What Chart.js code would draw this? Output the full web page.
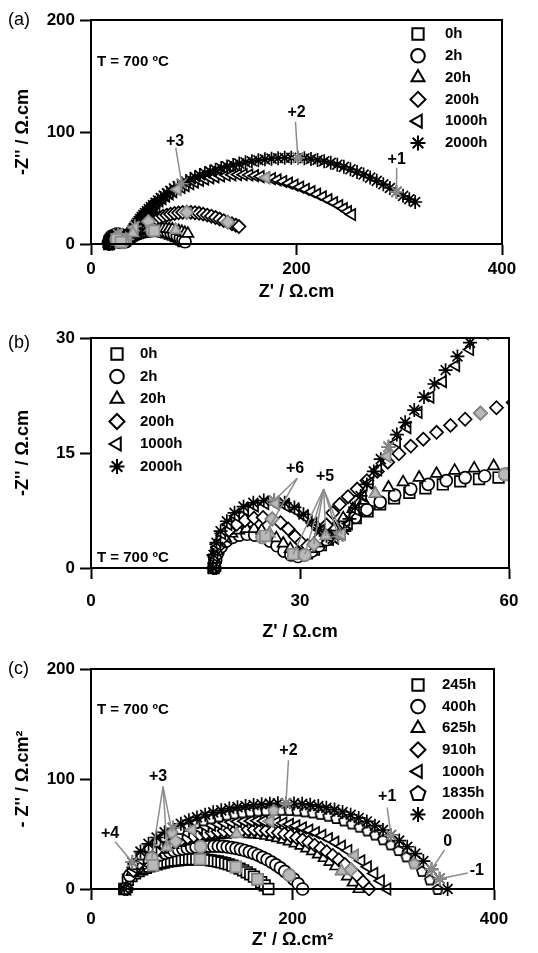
<!DOCTYPE html>
<html>
<head>
<meta charset="utf-8">
<script src="https://cdn.jsdelivr.net/npm/chart.js@4/dist/chart.umd.min.js"></script>
<style>
  body { margin: 0; background: #fff; width: 538px; height: 953px; position: relative; overflow: hidden; }
  .panel { position: absolute; left: 0; width: 538px; }
</style>
</head>
<body>
<div class="panel" style="top:0;height:305px"><canvas id="chartA"></canvas></div>
<div class="panel" style="top:300px;height:345px"><canvas id="chartB"></canvas></div>
<div class="panel" style="top:640px;height:313px"><canvas id="chartC"></canvas></div>
<script>
// ---- panels (a) and (b): same spectra, (b) is the high-frequency zoom
const hoursAB = ['0h', '2h', '20h', '200h', '1000h', '2000h'];

const ab0h = [[17.6,0],[17.7,1.1],[18.0,2.1],[18.5,3.0],[19.2,3.7],[20.0,4.2],[21.0,4.5],[22.0,4.7],[23.0,4.7],[24.0,4.5],[25.0,4.2],[26.0,3.7],[27.0,3.0],[28.0,2.3],[29.0,1.8],[30.0,1.7],[31.0,1.9],[32.0,2.4],[33.0,3.0],[34.0,3.7],[35.2,4.6],[36.5,5.5],[38.0,6.5],[39.7,7.4],[41.5,8.3],[43.5,9.1],[45.7,9.8],[48.0,10.4],[50.5,10.9],[53.0,11.3],[55.7,11.6],[58.5,11.8],[61.5,11.9],[64.5,11.8],[67.5,11.5],[70.5,11.0],[73.5,10.3],[76.5,9.4],[79.5,8.3],[82.5,7.0],[85.5,5.5],[88.0,4.0],[90.0,2.5]];
const ab2h = [[17.8,0],[17.9,1.0],[18.2,2.0],[18.7,2.8],[19.4,3.5],[20.3,4.0],[21.3,4.3],[22.4,4.4],[23.5,4.3],[24.6,4.0],[25.7,3.5],[26.7,2.9],[27.7,2.2],[28.7,1.7],[29.7,1.5],[30.7,1.7],[31.7,2.2],[32.7,2.9],[33.8,3.7],[35.0,4.6],[36.4,5.6],[37.9,6.6],[39.6,7.6],[41.5,8.6],[43.6,9.5],[45.9,10.3],[48.4,10.9],[51.0,11.4],[53.7,11.8],[56.5,12.0],[59.4,12.2],[62.4,12.3],[65.5,12.2],[68.6,11.9],[71.7,11.4],[74.8,10.7],[77.9,9.8],[81.0,8.6],[84.0,7.2],[87.0,5.5],[89.5,3.8],[91.5,2.0]];
const ab20h = [[17.7,0],[17.8,1.1],[18.1,2.2],[18.6,3.1],[19.3,3.9],[20.2,4.5],[21.2,4.9],[22.3,5.1],[23.4,5.1],[24.5,4.9],[25.6,4.5],[26.6,3.9],[27.6,3.2],[28.6,2.5],[29.6,2.1],[30.6,2.1],[31.6,2.5],[32.6,3.2],[33.7,4.2],[34.9,5.3],[36.2,6.5],[37.6,7.7],[39.1,8.8],[40.8,9.7],[42.7,10.5],[44.8,11.2],[47.1,11.8],[49.6,12.3],[52.2,12.7],[55.0,13.0],[57.8,13.3],[60.7,13.5],[63.7,13.7],[66.8,13.8],[69.9,13.8],[73.0,13.7],[76.1,13.4],[79.2,13.0],[82.3,12.4],[85.4,11.7],[88.4,10.9],[91.4,10.0],[94.2,9.2]];
const ab200h = [[17.6,0],[17.8,1.4],[18.2,2.7],[18.9,3.9],[19.8,4.9],[20.9,5.7],[22.1,6.2],[23.4,6.5],[24.7,6.6],[26.0,6.4],[27.2,5.9],[28.3,5.1],[29.3,4.1],[30.2,3.3],[31.1,2.9],[32.0,3.1],[32.9,4.0],[33.8,5.6],[34.7,7.2],[35.7,8.3],[36.9,9.3],[38.2,10.3],[39.6,11.4],[41.1,12.6],[42.6,13.8],[44.2,14.9],[45.9,15.9],[47.7,16.8],[49.6,17.7],[51.6,18.6],[53.7,19.4],[55.9,20.2],[58.2,20.9],[60.6,21.6],[63.5,22.6],[66.8,23.8],[70.2,24.9],[73.8,25.8],[77.5,26.6],[81.3,27.3],[85.2,27.8],[89.2,28.2],[93.2,28.3],[97.2,28.2],[101.2,27.9],[105.2,27.4],[109.2,26.7],[113.2,25.8],[117.2,24.8],[121.2,23.6],[125.2,22.3],[129.2,20.9],[133.2,19.5],[137.2,18.1],[141.0,16.7],[144.0,15.6]];
const ab1000h = [[17.5,0],[17.7,1.6],[18.1,3.1],[18.8,4.5],[19.7,5.7],[20.8,6.8],[22.1,7.6],[23.5,8.1],[25.0,8.4],[26.5,8.4],[28.0,8.1],[29.4,7.5],[30.7,6.7],[31.9,5.8],[33.0,4.9],[34.0,4.2],[35.0,3.9],[36.0,4.4],[37.0,5.8],[38.0,7.6],[39.0,9.4],[40.0,11.1],[41.2,12.8],[42.5,14.6],[43.9,16.4],[45.4,18.3],[47.0,20.3],[48.7,22.3],[50.5,24.3],[52.4,26.4],[54.4,28.5],[56.5,30.6],[58.7,32.6],[61.0,34.4],[63.5,36.3],[66.5,38.5],[69.5,40.6],[73.0,42.8],[76.5,44.8],[80.0,46.7],[84.0,48.7],[88.0,50.5],[92.0,52.1],[96.5,53.8],[101.0,55.3],[106.0,56.8],[111.0,58.0],[116.0,59.1],[121.0,60.0],[126.5,60.8],[132.0,61.4],[137.5,61.8],[143.0,62.0],[148.5,61.9],[154.0,61.6],[159.5,61.0],[165.0,60.2],[170.5,59.3],[176.0,58.3],[181.5,57.2],[187.0,55.8],[192.5,54.3],[198.0,52.6],[203.5,50.8],[209.0,48.8],[214.5,46.7],[220.0,44.5],[225.5,42.1],[231.0,39.6],[236.5,37.0],[241.5,34.3],[246.0,31.6],[250.0,29.0],[254.0,26.3]];
const ab2000h = [[17.5,0],[17.6,1.7],[18.0,3.3],[18.6,4.8],[19.5,6.1],[20.6,7.2],[21.9,8.0],[23.3,8.5],[24.8,8.8],[26.3,8.8],[27.8,8.5],[29.2,7.9],[30.5,7.0],[31.7,6.0],[32.8,5.0],[33.8,4.2],[34.7,3.8],[35.5,4.1],[36.3,5.0],[37.1,6.4],[37.9,7.9],[38.7,9.4],[39.6,10.9],[40.6,12.6],[41.6,14.2],[42.7,15.8],[43.9,17.4],[45.1,19.0],[46.4,20.6],[47.8,22.3],[49.3,24.0],[50.9,25.8],[52.6,27.6],[54.4,29.4],[56.3,31.2],[58.3,33.0],[60.4,34.8],[62.7,36.8],[65.2,38.9],[67.9,41.0],[70.8,43.2],[73.9,45.3],[77.2,47.5],[80.7,49.6],[84.4,51.7],[88.3,53.8],[92.4,55.8],[96.7,57.8],[101.2,59.7],[105.9,61.5],[110.8,63.2],[115.9,64.8],[121.2,66.4],[126.7,67.9],[132.4,69.3],[138.3,70.6],[144.3,71.8],[150.4,72.9],[156.6,73.9],[162.9,74.8],[169.3,75.6],[175.7,76.2],[182.1,76.6],[188.5,76.9],[194.9,77.0],[201.3,76.9],[207.7,76.5],[214.1,75.9],[220.5,75.0],[226.9,73.9],[233.3,72.5],[239.7,70.8],[246.1,68.9],[252.5,66.7],[258.9,64.3],[265.3,62.0],[271.7,59.3],[278.1,56.4],[284.5,53.3],[290.9,50.0],[297.3,46.5],[303.7,43.0],[309.8,40.0],[315.5,37.5]];

// grey points: frequency decades
const decAB0h = [[25.0,4.2],[29.0,1.8],[61.5,11.9]];
const decAB2h = [[24.6,4.0],[30.7,1.7],[59.4,12.2]];
const decAB20h = [[25.6,4.5],[33.7,4.2],[40.8,9.7],[82.3,12.4]];
const decAB200h = [[26.0,6.4],[32.0,3.1],[55.9,20.2],[93.2,28.3],[133.2,19.5]];
const decAB1000h = [[26.5,8.4],[36.0,4.4],[42.5,14.6],[84.0,48.7],[170.5,59.3]];
const decAB2000h = [[26.3,8.8],[35.5,4.1],[42.7,15.8],[88.3,53.8],[201.3,76.9],[297.3,46.5]];

// ---- panel (c)
const hoursC = ['245h', '400h', '625h', '910h', '1000h', '1835h', '2000h'];

const c245x = [33.0,36.6,40.2,43.7,47.3,50.9,54.5,58.0,61.6,65.2,68.8,72.3,75.9,79.5,83.1,86.6,90.2,93.8,97.4,100.9,104.5,108.1,111.7,115.2,118.8,122.4,126.0,129.5,133.1,136.7,140.3,143.8,147.4,151.0,154.6,158.1,161.7,165.3,168.9,172.4,176.0];
const c245y = [0,8.4,11.8,14.2,16.2,17.8,19.3,20.5,21.6,22.5,23.4,24.1,24.8,25.3,25.8,26.1,26.5,26.7,26.9,27.0,27.0,26.9,26.8,26.5,26.1,25.6,25.0,24.2,23.4,22.4,21.2,20.0,18.5,17.0,15.2,13.3,11.2,8.8,6.2,3.3,0];
const c400x = [34.0,38.4,42.8,47.2,51.6,56.0,60.4,64.8,69.2,73.6,78.0,82.4,86.8,91.2,95.6,100.0,104.4,108.8,113.2,117.6,122.0,126.4,130.8,135.2,139.6,144.0,148.4,152.8,157.2,161.6,166.0,170.4,174.8,179.2,183.6,188.0,192.4,196.8,201.2,205.6,210.0];
const c400y = [0,12.2,17.0,20.6,23.4,25.8,27.8,29.6,31.2,32.6,33.8,34.8,35.8,36.5,37.2,37.8,38.2,38.6,38.8,39.0,39.0,38.9,38.7,38.3,37.7,37.0,36.1,35.0,33.7,32.3,30.7,28.8,26.8,24.5,22.0,19.2,16.1,12.7,8.9,4.7,0];
const c625x = [35.0,40.8,46.6,52.3,58.1,63.9,69.7,75.4,81.2,87.0,92.8,98.5,104.3,110.1,115.9,121.6,127.4,133.2,139.0,144.7,150.5,156.3,162.1,167.8,173.6,179.4,185.2,190.9,196.7,202.5,208.3,214.0,219.8,225.6,231.4,237.1,242.9,248.7,254.5,260.2,266.0];
const c625y = [0,15.6,21.8,26.4,30.0,33.1,35.7,38.0,40.0,41.8,43.3,44.7,45.9,46.9,47.7,48.4,49.0,49.5,49.8,50.0,50.0,49.9,49.6,49.1,48.4,47.4,46.3,44.9,43.3,41.4,39.4,37.0,34.4,31.4,28.2,24.6,20.7,16.3,11.5,6.1,0];
const c910x = [36,42,48,54,60,66,72,78,84,90,96,102,108,114,120,126,132,138,144,150,156,162,168,174,180,186,192,198,204,210,216,222,228,234,240,246,252,258,264,270,276];
const c910y = [0,16.8,23.5,28.5,32.4,35.7,38.6,41.0,43.2,45.1,46.8,48.2,49.5,50.6,51.5,52.3,52.9,53.4,53.7,53.9,54.0,53.9,53.6,53.0,52.2,51.2,50.0,48.4,46.7,44.7,42.5,39.9,37.1,33.9,30.5,26.6,22.3,17.6,12.4,6.5,0];
const c1000x = [36.0,42.5,48.9,55.4,61.8,68.3,74.7,81.2,87.6,94.1,100.5,107.0,113.4,119.9,126.3,132.8,139.2,145.7,152.1,158.6,165.0,171.5,177.9,184.4,190.8,197.3,203.7,210.2,216.6,223.1,229.5,236.0,242.4,248.9,255.3,261.8,268.2,274.7,281.1,287.6,294.0];
const c1000y = [0,19.3,27.0,32.7,37.2,41.0,44.3,47.1,49.6,51.8,53.7,55.4,56.9,58.1,59.1,60.0,60.8,61.3,61.7,61.9,62.0,61.9,61.5,60.8,60.0,58.8,57.4,55.6,53.6,51.3,48.8,45.8,42.6,38.9,35.0,30.5,25.6,20.2,14.2,7.5,0];
const c1835x = [34.0,41.8,49.5,57.3,65.0,72.8,80.5,88.3,96.0,103.8,111.5,119.3,127.0,134.8,142.5,150.3,158.0,165.8,173.5,181.3,189.0,196.8,204.5,212.3,220.0,227.8,235.5,243.3,251.0,258.8,266.5,274.3,282.0,289.8,297.5,305.3,313.0,320.8,328.5,336.3,344.0];
const c1835y = [0,22.5,31.4,37.9,43.2,47.6,51.4,54.7,57.6,60.1,62.4,64.3,66.0,67.5,68.7,69.7,70.6,71.2,71.6,71.9,72.0,71.9,71.4,70.6,69.6,68.3,66.6,64.6,62.3,59.6,56.7,53.2,49.5,45.2,40.6,35.4,29.7,23.5,16.5,8.7,0];
const c2000x = [33.0,41.0,49.1,57.1,65.1,73.1,81.2,89.2,97.2,105.2,113.3,121.3,129.3,137.3,145.4,153.4,161.4,169.4,177.5,185.5,193.5,201.5,209.6,217.6,225.6,233.6,241.7,249.7,257.7,265.7,273.8,281.8,289.8,297.8,305.9,313.9,321.9,329.9,338.0,346.0,354.0];
const c2000y = [0,24.3,34.0,41.1,46.8,51.6,55.7,59.3,62.4,65.1,67.5,69.7,71.5,73.1,74.4,75.5,76.4,77.1,77.6,77.9,78.0,77.8,77.4,76.5,75.4,73.9,72.2,70.0,67.5,64.6,61.4,57.6,53.6,49.0,44.0,38.4,32.2,25.4,17.9,9.4,0];

const decC245 = [[61.6,21.6],[108.1,26.9],[143.8,20.0],[165.3,8.8]];
const decC400 = [[60.4,27.8],[108.8,38.6],[196.8,12.7]];
const decC625 = [[75.4,38.0],[144.7,50.0],[248.7,16.3]];
const decC910 = [[84,43.2],[258,17.6]];
const decC1000 = [[100.5,53.7],[177.9,61.5],[261.8,30.5]];
const decC1835 = [[80.5,51.4],[181.3,71.9],[320.8,23.5]];
const decC2000 = [[41.0,24.3],[81.2,55.7],[193.5,78.0],[297.8,49.0],[338.0,17.9],[346.0,9.4]];

// tick labels / axis ranges: [min, max, step]
const ticksA = { x: [0, 400, 200], y: [0, 200, 100] };
const ticksB = { x: [0, 60, 30], y: [0, 30, 15] };
const ticksC = { x: [0, 400, 200], y: [0, 200, 100] };

const FONT = '"Liberation Sans", Arial, sans-serif';
Chart.defaults.font.family = FONT;
Chart.defaults.color = '#000';

const pair = (xs, ys) => xs.map((x, i) => [x, ys[i]]);

function pentPath(g, cx, cy, r) {
  g.beginPath();
  for (let i = 0; i < 5; i++) {
    const a = -Math.PI / 2 + i * 2 * Math.PI / 5;
    const px = cx + r * Math.cos(a), py = cy + r * Math.sin(a);
    i ? g.lineTo(px, py) : g.moveTo(px, py);
  }
  g.closePath();
}

function pentagon(fill, stroke, size, lw) {
  const c = document.createElement('canvas');
  c.width = size; c.height = size;
  const g = c.getContext('2d');
  pentPath(g, size / 2, size / 2 + 0.8, size / 2 - lw);
  g.fillStyle = fill; g.fill();
  g.lineWidth = lw; g.strokeStyle = stroke; g.stroke();
  return c;
}

const shapeAB = ['rect', 'circle', 'triangle', 'rectRot', 'left', 'star'];
const shapeC = ['rect', 'circle', 'triangle', 'rectRot', 'left', 'pent', 'star'];

function markStyle(shape, grey) {
  const fill = grey ? '#b9b9b9' : '#ffffff';
  const line = grey ? '#8a8a8a' : '#000000';
  let pointStyle = shape, rot = 0, r = 6.5;
  if (shape === 'left') { pointStyle = 'triangle'; rot = -90; }
  if (shape === 'pent') pointStyle = pentagon(fill, line, 14, 1.7);
  if (shape === 'rect') r = 7.5;
  if (shape === 'circle') r = 6;
  if (shape === 'star') r = 7;
  return { pointStyle, pointRotation: rot, pointRadius: r, backgroundColor: fill, borderColor: line,
           pointBackgroundColor: fill, pointBorderColor: line, borderWidth: 1.7 };
}

function buildSets(labels, shapes, series, decades, clip) {
  const sets = [];
  labels.forEach((lab, i) => {
    sets.push(Object.assign({ label: lab, data: series[i], showLine: false, order: 20 - i, clip: clip,
      legendShape: shapes[i] }, markStyle(shapes[i], false)));
  });
  labels.forEach((lab, i) => {
    sets.push(Object.assign({ label: '_' + lab, decade: true, data: decades[i], showLine: false, order: 0, clip: clip },
      markStyle(shapes[i], true)));
  });
  return sets;
}

// plot frame (top and right edges)
const frame = {
  id: 'frame',
  afterDraw(chart) {
    const { ctx, chartArea: a } = chart;
    ctx.save();
    ctx.strokeStyle = '#000'; ctx.lineWidth = 2;
    ctx.strokeRect(a.left, a.top, a.right - a.left, a.bottom - a.top);
    ctx.restore();
  }
};

// symbol key drawn inside the plot
const key = {
  id: 'key',
  afterDraw(chart, args, o) {
    if (!o || o.x === undefined) return;
    const ctx = chart.ctx;
    let row = 0;
    chart.data.datasets.forEach(ds => {
      if (ds.decade) return;
      const y = o.y + row * o.dy;
      const st = markStyle(ds.legendShape, false);
      ctx.save();
      ctx.fillStyle = '#fff'; ctx.strokeStyle = '#000'; ctx.lineWidth = 2;
      if (ds.legendShape === 'pent') {
        pentPath(ctx, o.x, y + 0.8, 7.8);
        ctx.fill(); ctx.stroke();
      } else {
        const rad = { rect: 8, circle: 6.8, star: 7.5 }[ds.legendShape] || 7.5;
        Chart.helpers.drawPoint(ctx, { pointStyle: st.pointStyle, rotation: st.pointRotation,
          radius: rad, borderWidth: 2 }, o.x, y);
      }
      ctx.fillStyle = '#000';
      ctx.font = 'bold 15px ' + FONT;
      ctx.textBaseline = 'middle'; ctx.textAlign = 'left';
      ctx.fillText(ds.label, o.textX, y);
      ctx.restore();
      row++;
    });
  }
};

// decade labels with leader lines, in data units
const notes = {
  id: 'notes',
  afterDatasetsDraw(chart, args, o) {
    if (!o) return;
    const { ctx, scales: { x, y } } = chart;
    ctx.save();
    ctx.strokeStyle = '#8c8c8c'; ctx.lineWidth = 1.5;
    (o.lines || []).forEach(l => {
      ctx.beginPath();
      ctx.moveTo(x.getPixelForValue(l[0]), y.getPixelForValue(l[1]));
      ctx.lineTo(x.getPixelForValue(l[2]), y.getPixelForValue(l[3]));
      ctx.stroke();
    });
    ctx.fillStyle = '#000';
    ctx.font = 'bold 16px ' + FONT;
    ctx.textAlign = 'center'; ctx.textBaseline = 'middle';
    (o.labels || []).forEach(t => ctx.fillText(t[0], x.getPixelForValue(t[1]), y.getPixelForValue(t[2])));
    ctx.restore();
  }
};

// panel letter and temperature
const texts = {
  id: 'texts',
  afterDraw(chart, args, o) {
    if (!o) return;
    const ctx = chart.ctx;
    ctx.save();
    ctx.fillStyle = '#000'; ctx.textBaseline = 'middle'; ctx.textAlign = 'left';
    ctx.font = '18px ' + FONT;
    ctx.fillText(o.panel, 8, o.panelY);
    ctx.font = 'bold 15px ' + FONT;
    ctx.fillText('T = 700 ºC', 97, o.tempY);
    ctx.restore();
  }
};

function axis(range, title, fit, pad, titlePad) {
  return {
    type: 'linear', min: range[0], max: range[1],
    ticks: { stepSize: range[2], padding: pad, font: { size: 17, weight: 'bold' }, color: '#000' },
    grid: { display: true, drawOnChartArea: false, drawTicks: true, tickLength: 11, tickWidth: 2, tickColor: '#000' },
    border: { display: true, color: '#000', width: 2 },
    title: { display: true, text: title, font: { size: 18, weight: 'bold' }, color: '#000', padding: titlePad },
    afterFit: fit
  };
}

function makeChart(id, sets, o) {
  return new Chart(document.getElementById(id), {
    type: 'scatter',
    data: { datasets: sets },
    options: {
      responsive: true, maintainAspectRatio: false, animation: false,
      layout: { padding: o.pad },
      plugins: { legend: { display: false }, tooltip: { enabled: false },
                 key: o.key, notes: o.notes, texts: o.texts },
      scales: {
        x: axis(o.ticks.x, o.xTitle, s => { s.height = o.xh; }, o.xTickPad, { top: 0, bottom: 2 }),
        y: axis(o.ticks.y, o.yTitle, s => { s.width = o.yw; }, 5, { top: 0, bottom: 4 })
      }
    },
    plugins: [frame, notes, key, texts]
  });
}

const seriesAB = [ab0h, ab2h, ab20h, ab200h, ab1000h, ab2000h];
const decadesAB = [decAB0h, decAB2h, decAB20h, decAB200h, decAB1000h, decAB2000h];

makeChart('chartA', buildSets(hoursAB, shapeAB, seriesAB, decadesAB, 7), {
  pad: { top: 20, left: 12, right: 36, bottom: 0 }, xh: 61, yw: 79, xTickPad: 4,
  ticks: ticksA, xTitle: "Z' / Ω.cm", yTitle: "-Z'' / Ω.cm",
  key: { x: 418, textX: 445, y: 34, dy: 21.8 },
  texts: { panel: '(a)', panelY: 20, tempY: 62 },
  notes: {
    labels: [['+3', 81.8, 91], ['+2', 200, 117], ['+1', 297.5, 75]],
    lines: [[82.5, 86, 88.3, 53.8], [199, 109, 201.3, 76.9], [297.5, 68, 297.3, 46.5]]
  }
});

makeChart('chartB', buildSets(hoursAB, shapeAB, seriesAB, decadesAB, { left: 6, top: 0, right: 0, bottom: 7 }), {
  pad: { top: 38, left: 12, right: 29, bottom: 0 }, xh: 77, yw: 79, xTickPad: 12,
  ticks: ticksB, xTitle: "Z' / Ω.cm", yTitle: "-Z'' / Ω.cm",
  key: { x: 117, textX: 140, y: 54, dy: 22.5 },
  texts: { panel: '(b)', panelY: 43, tempY: 258 },
  notes: {
    labels: [['+6', 29.3, 13.0], ['+5', 33.6, 11.9]],
    lines: [[29.6, 11.7, 26.3, 8.8], [29.6, 11.7, 25.0, 4.4],
            [33.4, 10.3, 29.0, 1.8], [33.4, 10.3, 30.7, 1.8], [33.4, 10.3, 32.0, 3.1],
            [33.4, 10.3, 33.7, 4.2], [33.4, 10.3, 35.5, 4.1], [33.4, 10.3, 36.0, 4.4]]
  }
});

const seriesC = [pair(c245x, c245y), pair(c400x, c400y), pair(c625x, c625y), pair(c910x, c910y),
                 pair(c1000x, c1000y), pair(c1835x, c1835y), pair(c2000x, c2000y)];
const decadesC = [decC245, decC400, decC625, decC910, decC1000, decC1835, decC2000];

makeChart('chartC', buildSets(hoursC, shapeC, seriesC, decadesC, 7), {
  pad: { top: 29, left: 12, right: 44, bottom: 0 }, xh: 64, yw: 79, xTickPad: 9,
  ticks: ticksC, xTitle: "Z' / Ω.cm²", yTitle: "- Z'' / Ω.cm²",
  key: { x: 418, textX: 442, y: 45, dy: 21.6 },
  texts: { panel: '(c)', panelY: 29, tempY: 70 },
  notes: {
    labels: [['+4', 19, 50], ['+3', 66.6, 102], ['+2', 196, 126], ['+1', 294, 84], ['0', 354, 43], ['-1', 383, 17]],
    lines: [[24, 43, 41.0, 24.3], [71.5, 93, 60.4, 27.8], [71.5, 93, 75.4, 38.0], [71.5, 93, 80.5, 51.4],
            [196, 117, 193.5, 78.0], [294, 74, 297.8, 49.0], [351, 35.5, 338.0, 17.9], [374, 14.5, 346.0, 9.4]]
  }
});
</script>
</body>
</html>
